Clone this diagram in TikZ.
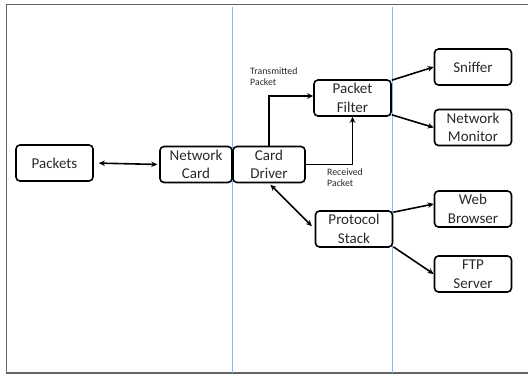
\documentclass[tikz,border=0pt]{standalone}
\usepackage{fontspec}
\setmainfont{Carlito}
\usetikzlibrary{arrows.meta,calc}
\definecolor{frameg}{RGB}{100,100,100}
\definecolor{laneblue}{RGB}{150,182,222}
\definecolor{txt}{RGB}{40,40,40}
\begin{document}
\begin{tikzpicture}[x=1pt,y=-1pt,
  box/.style={draw=black,line width=1.6pt,rounded corners=4pt,minimum width=77pt,minimum height=36pt,inner sep=1pt,align=center,text=txt,font=\fontsize{15}{18.5}\selectfont},
  narrowbox/.style={box,minimum width=72pt},
  conn/.style={line width=1.6pt,-{Stealth[length=6pt,width=5.5pt]}},
  biconn/.style={line width=1.6pt,{Stealth[length=6pt,width=5.5pt]}-{Stealth[length=6pt,width=5.5pt]}},
  lbl/.style={anchor=north west,align=left,inner sep=0pt,text=txt,font=\fontsize{9.8}{11.5}\selectfont}]
\useasboundingbox (0,0) rectangle (528,374);
% frame
\draw[frameg,line width=1.8pt] (528,4.5) -- (6.5,4.5) -- (6.5,373) -- (528,373);
% lanes
\draw[laneblue,line width=1pt] (232.5,7) -- (232.5,373);
\draw[laneblue,line width=1pt] (392.5,7) -- (392.5,373);
% nodes
\node[box] (pk) at (54.5,163) {Packets};
\node[narrowbox] (nc) at (196,164.5) {Network\\Card};
\node[narrowbox] (cd) at (269,164.5) {Card\\Driver};
\node[box] (pf) at (352.5,98) {Packet\\Filter};
\node[box] (ps) at (354,229) {Protocol\\Stack};
\node[box] (sn) at (473,67) {Sniffer};
\node[box] (nm) at (473,127.5) {Network\\Monitor};
\node[box] (wb) at (473,209) {Web\\Browser};
\node[box] (ftp) at (473,274) {FTP\\Server};
% labels
\node[lbl] (tl) at (250,67) {Transmitted\\Packet};
\node[lbl] (rl) at (327,168) {Received\\Packet};
% connectors
\draw[biconn,shorten <=5pt,shorten >=2pt] (pk.east) -- (nc.west);
\draw[conn] (cd.north) |- ([yshift=2pt]pf.west);
\draw[conn] (cd.east) -| (pf.south);
\draw[biconn,shorten <=2pt,shorten >=4pt] (cd.south) -- (ps.west);
\draw[conn] ([yshift=-1pt]pf.north east) -- (sn.west);
\draw[conn] ([yshift=2pt]pf.south east) -- (nm.west);
\draw[conn] ([yshift=-2pt]ps.north east) -- ([yshift=5pt]wb.west);
\draw[conn] ([yshift=1pt]ps.south east) -- (ftp.west);
\end{tikzpicture}
\end{document}
